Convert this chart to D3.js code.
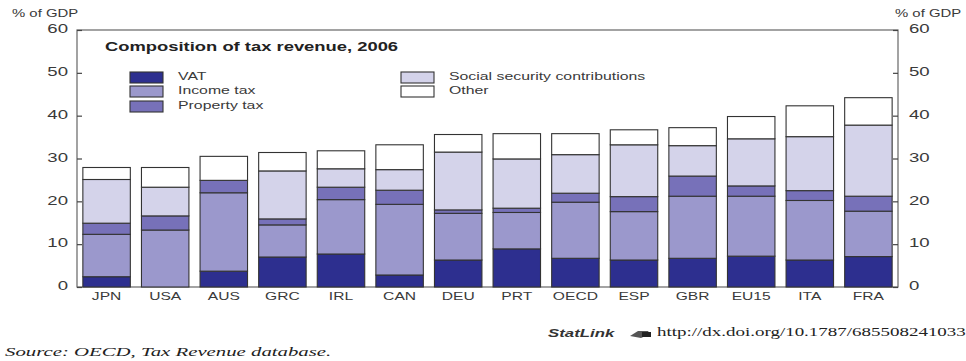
<!DOCTYPE html>
<html>
<head>
<meta charset="utf-8" />
<title>tax revenue composition</title>
<script src="https://cdn.jsdelivr.net/npm/d3@7"></script>
<style>
  html, body { margin: 0; padding: 0; background: #fff; }
  svg { display: block; }
  text { font-family: Arial, "Liberation Sans", sans-serif; fill: #3a3a3a; }
  .serif { font-family: "Liberation Serif", "DejaVu Serif", serif; font-style: italic; fill: #222; }
</style>
</head>
<body>
<svg id="chart" width="966" height="361"></svg>
<script>
// values, % of GDP
const countries = ["JPN", "USA", "AUS", "GRC", "IRL", "CAN", "DEU", "PRT", "OECD", "ESP", "GBR", "EU15", "ITA", "FRA"];
const vat      = [2.4, 0.0, 3.7, 7.0, 7.7, 2.8, 6.3, 8.9, 6.7, 6.3, 6.7, 7.2, 6.3, 7.1];
const income   = [9.9, 13.3, 18.3, 7.5, 12.7, 16.5, 10.9, 8.5, 13.1, 11.3, 14.5, 14.0, 13.9, 10.6];
const property = [2.6, 3.3, 2.9, 1.4, 2.9, 3.3, 0.8, 1.0, 2.1, 3.5, 4.7, 2.4, 2.3, 3.5];
const social   = [10.2, 6.7, 0.0, 11.2, 4.3, 4.8, 13.5, 11.5, 9.0, 12.1, 7.1, 11.0, 12.6, 16.6];
const other    = [2.8, 4.6, 5.6, 4.3, 4.2, 5.8, 4.1, 5.9, 4.9, 3.5, 4.2, 5.2, 7.2, 6.4];
const yTicks = [0, 10, 20, 30, 40, 50, 60];

const keys = ["vat", "income", "property", "social", "other"];
const labels = {vat: "VAT", income: "Income tax", property: "Property tax",
                social: "Social security contributions", other: "Other"};
const colors = {vat: "#2d2f8f", income: "#9b98cc", property: "#7771b9",
                social: "#d4d3ea", other: "#ffffff"};

const rows = countries.map((c, i) => ({
  country: c, vat: vat[i], income: income[i], property: property[i],
  social: social[i], other: other[i]
}));

const svg = d3.select("#chart");
const SX = 1.42; // the source picture is stretched sideways

function txt(sel, x, y, s, size, anchor, cls, weight, sx) {
  return sel.append("text")
    .attr("transform", `translate(${x},${y}) scale(${sx || SX},1)`)
    .attr("class", cls || null)
    .attr("text-anchor", anchor || "start")
    .attr("dominant-baseline", "middle")
    .style("font-size", size + "px")
    .style("font-weight", weight || "normal")
    .text(s);
}

const pLeft = 77, pRight = 898, pTop = 30, pBottom = 287;

const x = d3.scaleBand().domain(countries).range([pLeft, pRight])
  .paddingInner(0.19).paddingOuter(0.1);
const y = d3.scaleLinear().domain([0, 60]).range([pBottom, pTop]);

// frame
svg.append("rect")
  .attr("x", pLeft).attr("y", pTop)
  .attr("width", pRight - pLeft).attr("height", pBottom - pTop)
  .attr("fill", "none").attr("stroke", "#666").attr("stroke-width", 1.2);

// bars
const series = d3.stack().keys(keys)(rows);
svg.append("g").selectAll("g")
  .data(series)
  .join("g")
  .attr("fill", d => colors[d.key])
  .selectAll("rect")
  .data(d => d.filter(p => p[1] - p[0] > 0))
  .join("rect")
  .attr("x", d => x(d.data.country))
  .attr("y", d => y(d[1]))
  .attr("width", x.bandwidth())
  .attr("height", d => y(d[0]) - y(d[1]))
  .attr("stroke", "#333")
  .attr("stroke-width", 1.1);

// axes with inward ticks
const axL = svg.append("g").attr("transform", `translate(${pLeft},0)`)
  .call(d3.axisRight(y).tickValues(yTicks).tickSize(5).tickFormat(""));
const axR = svg.append("g").attr("transform", `translate(${pRight},0)`)
  .call(d3.axisLeft(y).tickValues(yTicks).tickSize(5).tickFormat(""));
[axL, axR].forEach(a => {
  a.select(".domain").remove();
  a.selectAll("line").attr("stroke", "#444").attr("stroke-width", 1.2);
});

const tickG = svg.append("g");
yTicks.forEach(t => {
  txt(tickG, 68, y(t), String(t), 12, "end", null, null, 1.55);
  txt(tickG, 909, y(t), String(t), 12, "start", null, null, 1.55);
});
txt(svg, 12, 14, "% of GDP", 10.5, "start");
txt(svg, 895, 14, "% of GDP", 10.5, "start");

// category labels
countries.forEach(c => {
  txt(svg, x(c) + x.bandwidth() / 2, 297, c, 11, "middle");
});

// title and legend
txt(svg, 105, 48, "Composition of tax revenue, 2006", 12.6, "start", null, "bold", 1.46).style("fill", "#222");

const legPos = [
  {k: "vat", x: 130, y: 72}, {k: "income", x: 130, y: 86}, {k: "property", x: 130, y: 101},
  {k: "social", x: 401, y: 72}, {k: "other", x: 401, y: 86}
];
legPos.forEach(p => {
  svg.append("rect")
    .attr("x", p.x).attr("y", p.y)
    .attr("width", 33).attr("height", 11)
    .attr("fill", colors[p.k]).attr("stroke", "#333").attr("stroke-width", 1.1);
  txt(svg, p.x + 48, p.y + 5.5, labels[p.k], 11, "start", null, null, 1.44);
});

// footer
txt(svg, 548, 334, "StatLink", 10.5, "start", null, "bold", 1.6).style("font-style", "italic").style("fill", "#333");
const icon = svg.append("g").attr("transform", "translate(630,330)");
icon.append("path").attr("d", "M0,6 L8,1 L18,1 L20,4 L11,8 Z").attr("fill", "#555");
icon.append("rect").attr("x", 12).attr("y", 2).attr("width", 9).attr("height", 5).attr("fill", "#222");
txt(svg, 657, 333, "http://dx.doi.org/10.1787/685508241033", 13, "start", "serif", null, 1.46)
  .style("font-style", "normal");
txt(svg, 5, 353, "Source:  OECD, Tax Revenue database.", 13, "start", "serif", null, 1.6);
</script>
</body>
</html>
